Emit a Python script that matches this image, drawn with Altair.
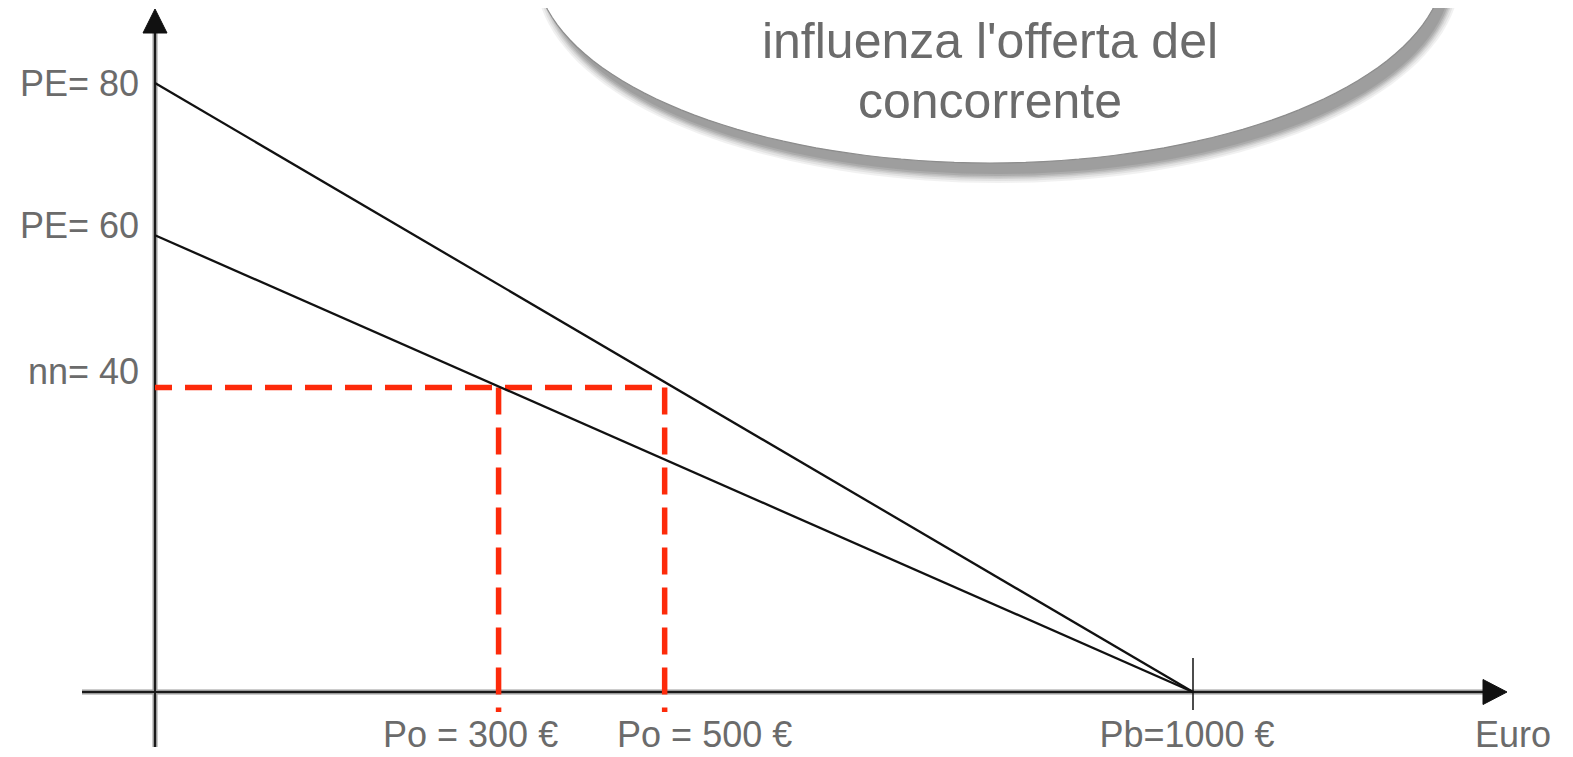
import math
import altair as alt
import pandas as pd

# ---------------- data ----------------
pe_values = [80, 60]            # y-intercepts of the two lines (PE)
pb_value = 1000                 # Pb: both lines reach zero here
nn_value = 40                   # nn level (dashed red)
po_values = [331, 491]          # x of the dashed red verticals
y_labels = ["PE= 80", "PE= 60", "nn= 40"]
y_label_values = [80, 60, 40]
x_labels = ["Po = 300 €", "Po = 500 €", "Pb=1000 €"]
x_axis_name = "Euro"
bubble_lines = ["influenza l'offerta del", "concorrente"]

# ---------------- layout ----------------
W, H = 1557, 749
X0, X_PER = 147, 1.038
Y0, Y_PER = 684, 7.6125
xs = alt.Scale(domain=[-X0 / X_PER, (W - X0) / X_PER], nice=False, zero=False)
ys = alt.Scale(domain=[-(H - Y0) / Y_PER, Y0 / Y_PER], nice=False, zero=False)
TXT = "#6b6b6b"
FONT = "Liberation Sans"
RED = "#fd2a0a"

def X(field):
    return alt.X(field, type="quantitative", scale=xs, axis=None)

def Y(field):
    return alt.Y(field, type="quantitative", scale=ys, axis=None)

one = pd.DataFrame({"k": [0]})

# lines
rows = []
for pe in pe_values:
    rows.append({"s": f"PE{pe}", "x": 0, "y": pe})
    rows.append({"s": f"PE{pe}", "x": pb_value, "y": 0})
lines_df = pd.DataFrame(rows)
lines = alt.Chart(lines_df).mark_line(color="#111111", strokeWidth=2.3).encode(
    x=X("x"), y=Y("y"), detail="s:N")

# axes
axis_df = pd.DataFrame({"x": [0], "y": [0]})
xaxis_halo = alt.Chart(axis_df).mark_rule(color="#9a9a9a", strokeWidth=5).encode(
    y=Y("y"), x=alt.value(74), x2=alt.value(1480))
xaxis = alt.Chart(axis_df).mark_rule(color="#1a1a1a", strokeWidth=2).encode(
    y=Y("y"), x=alt.value(74), x2=alt.value(1480))
yaxis_halo = alt.Chart(axis_df).mark_rule(color="#9a9a9a", strokeWidth=5).encode(
    x=X("x"), y=alt.value(24), y2=alt.value(739))
yaxis = alt.Chart(axis_df).mark_rule(color="#1a1a1a", strokeWidth=2).encode(
    x=X("x"), y=alt.value(24), y2=alt.value(739))
arrow_r = alt.Chart(one).mark_point(
    shape="M0,-12.5L24,0L0,12.5Z", size=4, filled=True, fill="#111111", opacity=1,
    stroke="#111111", strokeWidth=1).encode(x=alt.value(1475), y=alt.value(684))
arrow_u = alt.Chart(one).mark_point(
    shape="M-12,0L0,-24L12,0Z", size=4, filled=True, fill="#111111", opacity=1,
    stroke="#111111", strokeWidth=1).encode(x=alt.value(147), y=alt.value(25))
tick_df = pd.DataFrame({"x": [pb_value]})
tick = alt.Chart(tick_df).mark_rule(color="#111111", strokeWidth=1.5).encode(
    x=X("x"), y=alt.value(650), y2=alt.value(702))

# dashed red guides
h_df = pd.DataFrame({"x": [0], "x2": [po_values[1]], "y": [nn_value]})
dash_h = alt.Chart(h_df).mark_rule(color=RED, strokeWidth=5.5, strokeDash=[27, 13],
                                   strokeDashOffset=10).encode(
    x=X("x"), x2="x2:Q", y=Y("y"))
v_df = pd.DataFrame({"x": po_values, "y": [nn_value] * len(po_values)})
dash_v = alt.Chart(v_df).mark_rule(color=RED, strokeWidth=5.5, strokeDash=[27, 13]).encode(
    x=X("x"), y=Y("y"), y2=alt.value(704))

# labels
layers_text = []
for lab, val, dy in zip(y_labels, y_label_values, [2, -8, -15]):
    d = pd.DataFrame({"y": [val], "t": [lab]})
    layers_text.append(alt.Chart(d).mark_text(
        align="right", baseline="middle", font=FONT, fontSize=36, color=TXT, dy=dy
    ).encode(x=alt.value(131), y=Y("y"), text="t:N"))
for lab, val, dx in zip(x_labels, po_values + [pb_value], [-28, 40, -6]):
    d = pd.DataFrame({"x": [val], "t": [lab]})
    layers_text.append(alt.Chart(d).mark_text(
        align="center", baseline="alphabetic", font=FONT, fontSize=36, color=TXT, dx=dx
    ).encode(x=X("x"), y=alt.value(739), text="t:N"))
layers_text.append(alt.Chart(pd.DataFrame({"t": [x_axis_name]})).mark_text(
    align="center", baseline="alphabetic", font=FONT, fontSize=36, color=TXT
).encode(x=alt.value(1505), y=alt.value(739), text="t:N"))

# speech bubble (ellipse with soft shadow)
def ellipse_path(rx, ry, n=160):
    pts = []
    for i in range(n):
        t = 2 * math.pi * i / n
        pts.append(f"{rx * math.cos(t):.1f},{ry * math.sin(t):.1f}")
    return "M" + "L".join(pts) + "Z"

BCX, BCY, RX, RY = 982, -45, 455, 200
bubble_layers = []
for grow, op in [(7, 0.12), (5, 0.15), (3, 0.2), (1.5, 0.25), (0, 0.35), (-2, 0.4)]:
    bubble_layers.append(alt.Chart(one).mark_point(
        shape=ellipse_path(RX + grow, RY + grow), size=4, filled=True,
        fill="#8a8a8a", opacity=op, strokeWidth=0
    ).encode(x=alt.value(BCX + 8), y=alt.value(BCY + 13)))
bubble_layers.append(alt.Chart(one).mark_point(
    shape=ellipse_path(RX, RY), size=4, filled=True, fill="#ffffff", opacity=1,
    stroke="#8c8c8c", strokeWidth=1.2, strokeOpacity=1
).encode(x=alt.value(BCX), y=alt.value(BCY)))
for line, base in zip(bubble_lines, [50, 110]):
    bubble_layers.append(alt.Chart(pd.DataFrame({"t": [line]})).mark_text(
        align="center", baseline="alphabetic", font=FONT, fontSize=50, color=TXT
    ).encode(x=alt.value(BCX), y=alt.value(base), text="t:N"))

chart = alt.layer(
    xaxis_halo, yaxis_halo, xaxis, yaxis, arrow_r, arrow_u, tick,
    dash_h, dash_v, lines, *layers_text, *bubble_layers
).properties(
    width=W, height=H,
    autosize=alt.AutoSizeParams(type="none"), padding=0, background="white"
).configure_view(stroke=None)

chart.save("out.html", embed_options={"renderer": "svg", "actions": False})
